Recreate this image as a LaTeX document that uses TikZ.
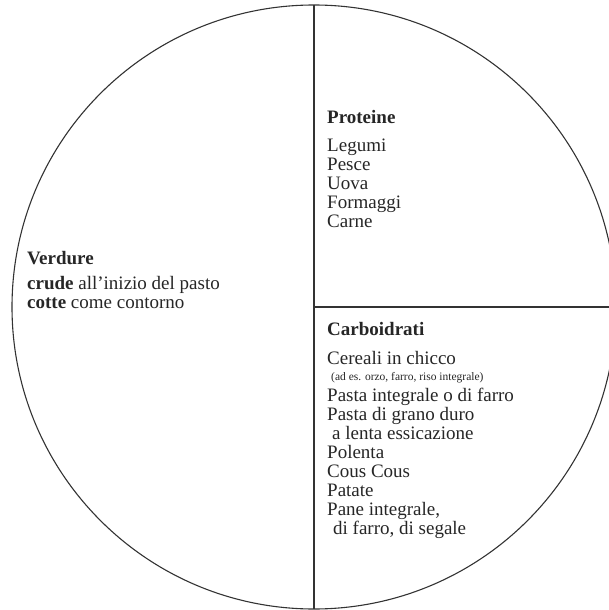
\documentclass[tikz,border=0pt]{standalone}
\usepackage{fontspec}
\setmainfont{Liberation Serif}
\tikzset{
  lbl/.style={anchor=base west, inner sep=0pt, text=black!85, font=\fontsize{19}{19}\selectfont},
  head/.style={lbl, font=\bfseries\fontsize{19}{19}\selectfont},
  note/.style={lbl, font=\fontsize{11.5}{12}\selectfont},
  rim/.style={line width=1.1pt, draw=black!80}
}
\begin{document}
\begin{tikzpicture}[x=1pt,y=-1pt]
\clip (0,0) rectangle (609,610);
\coordinate (C) at (314,307);
\coordinate (T) at (314,5);
\coordinate (B) at (314,609);
\coordinate (R) at (616,307);
\draw[rim] (C) circle (302);
\draw[rim] (T) -- (B);
\draw[rim] (C) -- (R);
% verdure
\node[head] (verd) at (27,264) {Verdure};
\node[lbl] (verd1) at (27,289) {\textbf{crude} all’inizio del pasto};
\node[lbl] (verd2) at (27,308) {\textbf{cotte} come contorno};
% proteine
\node[head] (prot) at (327,123) {Proteine};
\foreach \t [count=\i] in {Legumi,Pesce,Uova,Formaggi,Carne}
  \node[lbl] (prot\i) at (327,{132+19*\i}) {\t};
% carboidrati
\node[head] (carb) at (327,335) {Carboidrati};
\node[lbl] (carb1) at (327,364) {Cereali in chicco};
\node[note] (carb2) at (331,380) {(ad es. orzo, farro, riso integrale)};
\node[lbl] (carb3) at (327,401) {Pasta integrale o di farro};
\node[lbl] (carb4) at (327,420) {Pasta di grano duro};
\node[lbl] (carb5) at (332,439) {a lenta essicazione};
\node[lbl] (carb6) at (327,458) {Polenta};
\node[lbl] (carb7) at (327,477) {Cous Cous};
\node[lbl] (carb8) at (327,496) {Patate};
\node[lbl] (carb9) at (327,515) {Pane integrale,};
\node[lbl] (carb10) at (333,534) {di farro, di segale};
\end{tikzpicture}
\end{document}
